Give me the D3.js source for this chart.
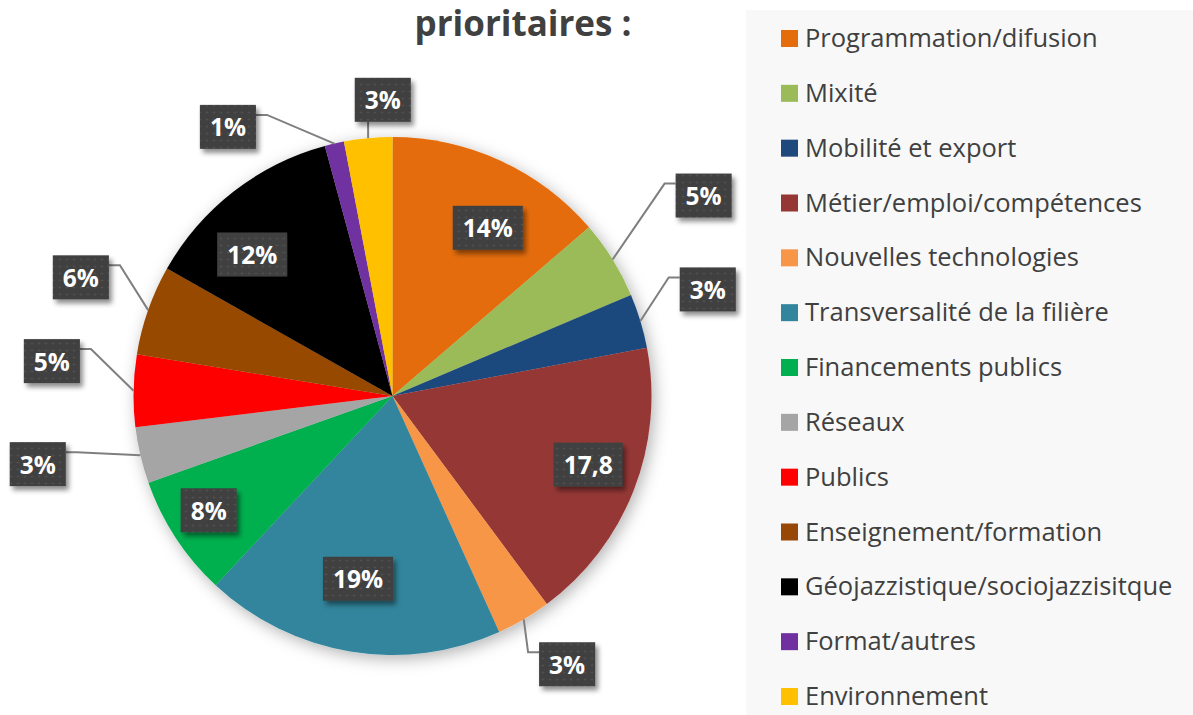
<!DOCTYPE html>
<html>
<head>
<meta charset="utf-8">
<script src="https://cdn.jsdelivr.net/npm/d3@7"></script>
<style>
  body { margin: 0; background: #fff; }
  svg { display: block; font-family: "Open Sans", sans-serif; }
</style>
</head>
<body>
<svg id="chart" width="1193" height="715"></svg>
<script>
// categories, clockwise from 12 o'clock
var categories = [
  "Programmation/difusion", "Mixité", "Mobilité et export", "Métier/emploi/compétences",
  "Nouvelles technologies", "Transversalité de la filière", "Financements publics",
  "Réseaux", "Publics", "Enseignement/formation", "Géojazzistique/sociojazzisitque",
  "Format/autres", "Environnement"
];
// share of each slice (%)
var values = [13.7, 4.9, 3.4, 17.8, 3.4, 18.7, 7.6, 3.5, 4.5, 5.6, 12.6, 1.2, 3.0];
// label texts as printed
var labels = ["14%", "5%", "3%", "17,8", "3%", "19%", "8%", "3%", "5%", "6%", "12%", "1%", "3%"];
var colors = ["#E46C0A", "#9BBB59", "#1F497D", "#953735", "#F79646", "#31859C", "#00B050",
              "#A5A5A5", "#FF0000", "#974806", "#000000", "#7030A0", "#FFC000"];

// label layout: inside or outside the pie, plus small pixel nudges
var labelInside = [true, false, false, true, false, true, true, false, false, false, true, false, false];
var labelNudge = [[12, 13], [25, -23], [-7, -9], [10, -4], [4, -22], [-2, -14], [-17, 5],
                  [-27, -9], [-4, -28], [6, -7], [-18, 16], [-89, 59], [22, 39]];

var svg = d3.select("#chart");
var cx = 392.5, cy = 396, r = 259;

var defs = svg.append("defs");
var pieShadow = defs.append("filter").attr("id", "pieShadow")
  .attr("x", "-20%").attr("y", "-20%").attr("width", "140%").attr("height", "140%");
pieShadow.append("feDropShadow").attr("dx", 3).attr("dy", 4).attr("stdDeviation", 8)
  .attr("flood-color", "#000").attr("flood-opacity", 0.3);

var boxShadow = defs.append("filter").attr("id", "boxShadow")
  .attr("x", "-30%").attr("y", "-30%").attr("width", "160%").attr("height", "160%");
boxShadow.append("feDropShadow").attr("dx", 3).attr("dy", 4).attr("stdDeviation", 2.5)
  .attr("flood-color", "#000").attr("flood-opacity", 0.45);

var pat = defs.append("pattern").attr("id", "dots")
  .attr("width", 7).attr("height", 7).attr("patternUnits", "userSpaceOnUse");
pat.append("rect").attr("width", 7).attr("height", 7).attr("fill", "#3f3f3f");
pat.append("circle").attr("cx", 3.5).attr("cy", 3.5).attr("r", 1).attr("fill", "#575757");

// legend panel
svg.append("rect")
  .attr("x", 746).attr("y", 10).attr("width", 460).attr("height", 720)
  .attr("fill", "#f8f8f8");

// title (first line is cut off above the frame)
svg.append("text")
  .attr("x", 523).attr("y", 36)
  .attr("text-anchor", "middle")
  .attr("font-size", 35).attr("font-weight", "bold")
  .attr("fill", "#404040")
  .text("prioritaires :");

var pie = d3.pie().sort(null).value(function (d) { return d; });
var arcs = pie(values);
var arc = d3.arc().innerRadius(0).outerRadius(r);

var g = svg.append("g").attr("transform", "translate(" + cx + "," + cy + ")");

g.append("g").attr("filter", "url(#pieShadow)")
  .selectAll("path")
  .data(arcs)
  .enter()
  .append("path")
  .attr("d", arc)
  .attr("fill", function (d, i) { return colors[i]; });

var inArc = d3.arc().innerRadius(r * 0.77).outerRadius(r * 0.77);
var outArc = d3.arc().innerRadius(r * 1.3).outerRadius(r * 1.3);
var edgeArc = d3.arc().innerRadius(r).outerRadius(r);

var labelG = g.append("g");

arcs.forEach(function (d, i) {
  var c = labelInside[i] ? inArc.centroid(d) : outArc.centroid(d);
  var lx = c[0] + labelNudge[i][0], ly = c[1] + labelNudge[i][1];

  var lab = labelG.append("g");
  var rect = lab.append("rect");
  var t = lab.append("text")
    .attr("x", lx).attr("y", ly)
    .attr("text-anchor", "middle")
    .attr("dominant-baseline", "central")
    .attr("font-size", 24.5).attr("font-weight", "bold")
    .attr("fill", "#fff")
    .text(labels[i]);
  var w = t.node().getComputedTextLength() + 20, h = 44;
  var b = { x0: lx - w / 2, y0: ly - h / 2, x1: lx + w / 2, y1: ly + h / 2 };
  rect.attr("x", b.x0).attr("y", b.y0).attr("width", w).attr("height", h)
    .attr("fill", "url(#dots)").attr("filter", "url(#boxShadow)");

  if (!labelInside[i]) {
    // leader line from slice edge to the box
    var p = edgeArc.centroid(d);
    var pts;
    if (p[0] > b.x1) {
      pts = [[b.x1, b.y0 + 10], [b.x1 + 11, b.y0 + 10], p];
    } else if (p[0] < b.x0) {
      pts = [[b.x0, b.y0 + 10], [b.x0 - 11, b.y0 + 10], p];
    } else {
      pts = [[p[0], p[1] > b.y1 ? b.y1 : b.y0], p];
    }
    labelG.insert("path", ":first-child")
      .attr("d", d3.line()(pts))
      .attr("fill", "none")
      .attr("stroke", "#7f7f7f")
      .attr("stroke-width", 2);
  }
});

// legend
var legendY = d3.scalePoint().domain(categories).range([38.5, 696.5]);
var leg = svg.append("g").selectAll("g")
  .data(categories)
  .enter()
  .append("g")
  .attr("transform", function (d) { return "translate(781," + legendY(d) + ")"; });

leg.append("rect")
  .attr("x", 0).attr("y", -8.5).attr("width", 17).attr("height", 17)
  .attr("fill", function (d, i) { return colors[i]; });

leg.append("text")
  .attr("x", 24).attr("y", 8.5)
  .attr("font-size", 25.5)
  .attr("fill", "#404040")
  .text(function (d) { return d; });
</script>
</body>
</html>
